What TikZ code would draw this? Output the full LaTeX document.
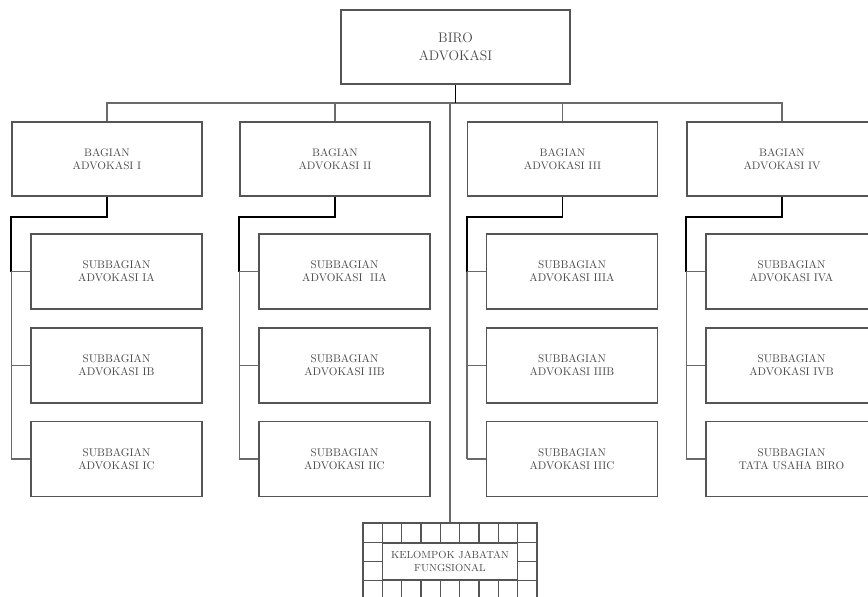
\documentclass[tikz,border=0pt]{standalone}
\usepackage{xcolor}
\usepackage{tikz}
\usetikzlibrary{positioning}
\definecolor{boxgray}{HTML}{555555}
\definecolor{linegray}{HTML}{6A6A6A}
\definecolor{textgray}{HTML}{4A4A4A}

\begin{document}
\begin{tikzpicture}[x=0.03cm, y=-0.03cm]
    % Styles
    \tikzstyle{birobox} = [rectangle, minimum width=6.87cm, minimum height=2.22cm, align=center, draw=boxgray, line width=1.1pt, text=textgray, font=\fontsize{11.8}{15.5}\selectfont]
    \tikzstyle{bagbox} = [rectangle, minimum width=5.7cm, minimum height=2.22cm, align=center, draw=boxgray, line width=1.1pt, text=textgray, font=\fontsize{9.3}{11}\selectfont]
    \tikzstyle{subbox} = [rectangle, minimum width=5.13cm, minimum height=2.25cm, align=center, draw=boxgray, line width=1.1pt, text=textgray, font=\fontsize{9.5}{11}\selectfont]
    \tikzstyle{stem} = [black, line width=1.6pt]
    \tikzstyle{link} = [linegray, line width=1.1pt]

    \clip (0,0) rectangle (868,597);

    % Nodes - using absolute positioning
    \node[birobox] (biro) at (455.5,47) {BIRO\\ADVOKASI};

    \node[bagbox] (bag1) at (107,159) {BAGIAN\\ADVOKASI I};
    \node[bagbox] (bag2) at (335,159) {BAGIAN\\ADVOKASI II};
    \node[bagbox] (bag3) at (562.5,159) {BAGIAN\\ADVOKASI III};
    \node[bagbox] (bag4) at (782,159) {BAGIAN\\ADVOKASI IV};

    \node[subbox] (sub1a) at (116.5,271.5) {SUBBAGIAN\\ADVOKASI IA};
    \node[subbox] (sub1b) at (116.5,365.5) {SUBBAGIAN\\ADVOKASI IB};
    \node[subbox] (sub1c) at (116.5,459) {SUBBAGIAN\\ADVOKASI IC};

    \node[subbox] (sub2a) at (344.5,271.5) {SUBBAGIAN\\ADVOKASI\ \ IIA};
    \node[subbox] (sub2b) at (344.5,365.5) {SUBBAGIAN\\ADVOKASI IIB};
    \node[subbox] (sub2c) at (344.5,459) {SUBBAGIAN\\ADVOKASI IIC};

    \node[subbox] (sub3a) at (572,271.5) {SUBBAGIAN\\ADVOKASI IIIA};
    \node[subbox] (sub3b) at (572,365.5) {SUBBAGIAN\\ADVOKASI IIIB};
    \node[subbox] (sub3c) at (572,459) {SUBBAGIAN\\ADVOKASI IIIC};

    \node[subbox] (sub4a) at (791.5,271.5) {SUBBAGIAN\\ADVOKASI IVA};
    \node[subbox] (sub4b) at (791.5,365.5) {SUBBAGIAN\\ADVOKASI IVB};
    \node[subbox] (sub4c) at (791.5,459) {SUBBAGIAN\\TATA USAHA BIRO};

    % Kelompok jabatan fungsional
    \node[rectangle, minimum width=5.22cm, minimum height=2.31cm, draw=boxgray, line width=1pt] (kframe) at (450,561.5) {};
    \node[rectangle, minimum width=4.05cm, minimum height=1.11cm, align=center, draw=boxgray, line width=1pt, text=textgray, font=\fontsize{8.8}{10.5}\selectfont] (kjf) at (450,561.5) {KELOMPOK JABATAN\\FUNGSIONAL};
    \foreach \i in {1,...,8} {
        \draw[boxgray, line width=1pt] (363+\i*19.33,523) -- (363+\i*19.33,543);
        \draw[boxgray, line width=1pt] (363+\i*19.33,580) -- (363+\i*19.33,600);
    }
    \draw[boxgray, line width=1pt] (kframe.west |- kjf.north) -- (kframe.east |- kjf.north);
    \draw[boxgray, line width=1pt] (kframe.west |- kjf.south) -- (kframe.east |- kjf.south);
    \draw[boxgray, line width=1pt] (kframe.west) -- (kjf.west);
    \draw[boxgray, line width=1pt] (kjf.east) -- (kframe.east);

    % Top connectors
    \coordinate (bus) at (0,103);
    \draw[link] (bag1.north) |- (bag4.north |- bus) -- (bag4.north);
    \draw[link] (bag2.north) -- (bag2.north |- bus);
    \draw[link] (bag3.north) -- (bag3.north |- bus);
    \draw[link] (kframe.north |- bus) -- (kframe.north);
    \draw[stem] (biro.south) -- (biro.south |- bus);

    % Column connectors
    \foreach \c in {1,2,3,4} {
        \draw[stem] (bag\c.south) -- ++(0,20) -| (bag\c.west |- sub\c a.west);
        \draw[link] (bag\c.west |- sub\c a.west) -- (bag\c.west |- sub\c c.west);
        \draw[link] (bag\c.west |- sub\c a.west) -- (sub\c a.west);
        \draw[link] (bag\c.west |- sub\c b.west) -- (sub\c b.west);
        \draw[link] (bag\c.west |- sub\c c.west) -- (sub\c c.west);
    }
\end{tikzpicture}
\end{document}
